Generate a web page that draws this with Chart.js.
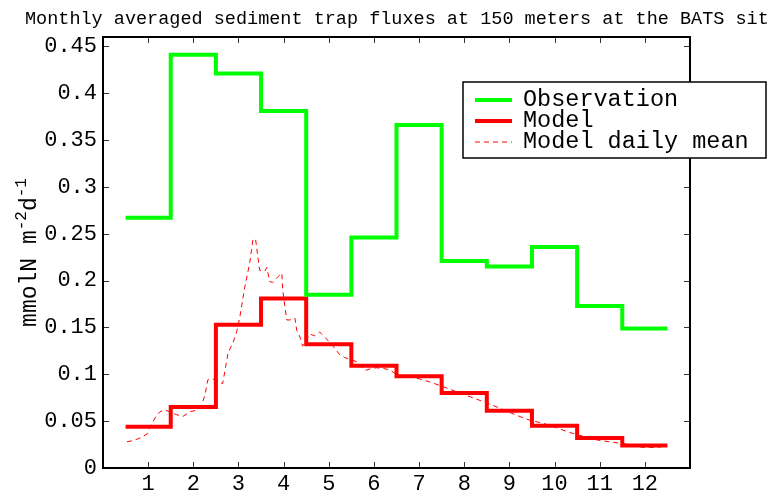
<!DOCTYPE html>
<html>
<head>
<meta charset="utf-8">
<script src="https://cdn.jsdelivr.net/npm/chart.js@4.4.1/dist/chart.umd.min.js"></script>
<style>
  html, body { margin: 0; padding: 0; background: #fff; }
  #wrap { width: 767px; height: 490px; position: relative; }
</style>
</head>
<body>
<div id="wrap"><canvas id="grafik"></canvas></div>
<script>
// Data
const months = [1, 2, 3, 4, 5, 6, 7, 8, 9, 10, 11, 12];
const observation = [0.267, 0.441, 0.421, 0.381, 0.185, 0.246, 0.366, 0.221, 0.215, 0.236, 0.173, 0.149];
const model = [0.044, 0.065, 0.153, 0.181, 0.132, 0.109, 0.098, 0.080, 0.061, 0.045, 0.032, 0.024];

// Model daily mean (x in months)
const dailyMonth = [0.53, 0.64, 0.77, 0.86, 0.97, 1.08, 1.17, 1.26, 1.37, 1.48, 1.62, 1.77, 1.92, 2.10, 2.19,
    2.26, 2.32, 2.43, 2.54, 2.65, 2.77, 2.88, 2.96, 3.03, 3.14, 3.25, 3.32, 3.38, 3.43, 3.47, 3.58, 3.63, 3.69,
    3.76, 3.87, 3.96, 3.98, 4.03, 4.07, 4.14, 4.25, 4.29, 4.36, 4.42, 4.49, 4.58, 4.69, 4.80, 4.91, 5.02, 5.13,
    5.24, 5.35, 5.53, 5.64, 5.80, 5.93, 6.06, 6.22, 6.35, 6.46, 6.64, 6.84, 7.01, 7.23, 7.52, 7.85, 8.19, 8.52,
    8.78, 9.12, 9.45, 9.73, 10.04, 10.33, 10.62, 10.93, 11.22, 11.66, 11.95, 12.26, 12.41];
const dailyMean = [0.028, 0.029, 0.031, 0.033, 0.036, 0.047, 0.055, 0.060, 0.062, 0.060, 0.057, 0.055, 0.060, 0.062, 0.068,
    0.078, 0.094, 0.095, 0.093, 0.090, 0.123, 0.134, 0.145, 0.161, 0.193, 0.219, 0.244, 0.244, 0.225, 0.211, 0.210, 0.214, 0.199,
    0.198, 0.204, 0.208, 0.190, 0.172, 0.158, 0.158, 0.160, 0.147, 0.140, 0.130, 0.136, 0.143, 0.141, 0.145, 0.140, 0.134, 0.128,
    0.121, 0.118, 0.115, 0.113, 0.104, 0.106, 0.107, 0.106, 0.105, 0.101, 0.097, 0.097, 0.095, 0.092, 0.087, 0.081, 0.075, 0.069,
    0.064, 0.057, 0.051, 0.048, 0.043, 0.038, 0.034, 0.030, 0.028, 0.025, 0.022, 0.022, 0.023];

const xTicks = months;
const yTicks = [0, 0.05, 0.1, 0.15, 0.2, 0.25, 0.3, 0.35, 0.4, 0.45];

const titleText = 'Monthly averaged sediment trap fluxes at 150 meters at the BATS site';
const legendLabels = ['Observation', 'Model', 'Model daily mean'];

const monoFont = '"Liberation Mono", "Courier New", monospace';

// Monthly values as steps: each month spans m-0.5 .. m+0.5
function toSteps(values) {
    const pts = [];
    months.forEach((m, i) => {
        pts.push({ x: m - 0.5, y: values[i] });
        pts.push({ x: m + 0.5, y: values[i] });
    });
    return pts;
}

// Frame, inward ticks, title, y label and legend box
const decorPlugin = {
    id: 'decor',
    afterDraw(chart) {
        const ctx = chart.ctx;
        const a = chart.chartArea;
        const xs = chart.scales.x;
        const ys = chart.scales.y;
        ctx.save();

        // inward ticks
        ctx.strokeStyle = '#333';
        ctx.lineWidth = 1;
        ctx.beginPath();
        xTicks.forEach(v => {
            const px = Math.round(xs.getPixelForValue(v)) + 0.5;
            ctx.moveTo(px, a.bottom); ctx.lineTo(px, a.bottom - 6);
            ctx.moveTo(px, a.top); ctx.lineTo(px, a.top + 6);
        });
        yTicks.forEach(v => {
            const py = Math.round(ys.getPixelForValue(v)) + 0.5;
            ctx.moveTo(a.left, py); ctx.lineTo(a.left + 6, py);
            ctx.moveTo(a.right, py); ctx.lineTo(a.right - 6, py);
        });
        ctx.stroke();

        // frame
        ctx.strokeStyle = '#000';
        ctx.lineWidth = 2;
        ctx.strokeRect(a.left, a.top, a.right - a.left, a.bottom - a.top);

        // title
        ctx.fillStyle = '#000';
        ctx.font = '18.5px ' + monoFont;
        ctx.textAlign = 'left';
        ctx.textBaseline = 'alphabetic';
        ctx.fillText(titleText, 25, 24);

        // y axis label with superscripts
        const parts = [
            { t: 'mmolN m', sup: false },
            { t: '-2', sup: true },
            { t: 'd', sup: false },
            { t: '-1', sup: true }
        ];
        const mainFont = '23px ' + monoFont;
        const supFont = '16px ' + monoFont;
        let total = 0;
        parts.forEach(p => {
            ctx.font = p.sup ? supFont : mainFont;
            p.w = ctx.measureText(p.t).width;
            total += p.w;
        });
        ctx.translate(36, (a.top + a.bottom) / 2);
        ctx.rotate(-Math.PI / 2);
        let cx = -total / 2;
        parts.forEach(p => {
            ctx.font = p.sup ? supFont : mainFont;
            ctx.fillText(p.t, cx, p.sup ? -10 : 0);
            cx += p.w;
        });
        ctx.setTransform(1, 0, 0, 1, 0, 0);

        // legend box
        const bx = 463, by = 82, bw = 303, bh = 76;
        ctx.fillStyle = '#fff';
        ctx.fillRect(bx, by, bw, bh);
        ctx.strokeStyle = '#000';
        ctx.lineWidth = 1.5;
        ctx.strokeRect(bx, by, bw, bh);
        const ds = chart.data.datasets;
        legendLabels.forEach((label, i) => {
            const ly = by + 18 + i * 21;
            ctx.beginPath();
            ctx.strokeStyle = ds[i].borderColor;
            ctx.lineWidth = ds[i].borderWidth;
            ctx.setLineDash(ds[i].borderDash || []);
            ctx.moveTo(475, ly);
            ctx.lineTo(512, ly);
            ctx.stroke();
            ctx.setLineDash([]);
            ctx.fillStyle = '#000';
            ctx.font = '23.5px ' + monoFont;
            ctx.textBaseline = 'middle';
            ctx.fillText(label, 523, ly);
        });
        ctx.restore();
    }
};

const config = {
    type: 'line',
    data: {
        datasets: [
            {
                label: legendLabels[0],
                data: toSteps(observation),
                borderColor: '#00ff00',
                borderWidth: 4,
                pointRadius: 0,
                fill: false,
            },
            {
                label: legendLabels[1],
                data: toSteps(model),
                borderColor: '#ff0000',
                borderWidth: 4,
                pointRadius: 0,
                fill: false,
            },
            {
                label: legendLabels[2],
                data: dailyMonth.map((m, i) => ({ x: m, y: dailyMean[i] })),
                borderColor: '#ff0000',
                borderWidth: 1,
                borderDash: [5, 4],
                pointRadius: 0,
                tension: 0,
                fill: false,
            },
        ]
    },
    options: {
        responsive: false,
        animation: false,
        layout: {
            padding: { left: 0, top: 37, right: 77, bottom: 0 }
        },
        scales: {
            x: {
                type: 'linear',
                min: 0,
                max: 13,
                afterBuildTicks: scale => { scale.ticks = xTicks.map(v => ({ value: v })); },
                afterFit: scale => { scale.height = 22; },
                grid: { display: false, drawTicks: false },
                border: { display: false },
                ticks: {
                    padding: 3,
                    color: '#000',
                    maxRotation: 0,
                    autoSkip: false,
                    font: { family: monoFont, size: 22 },
                    callback: v => String(v),
                }
            },
            y: {
                type: 'linear',
                min: 0,
                max: 0.46,
                afterBuildTicks: scale => { scale.ticks = yTicks.map(v => ({ value: v })); },
                afterFit: scale => { scale.width = 103; },
                grid: { display: false, drawTicks: false },
                border: { display: false },
                ticks: {
                    padding: 6,
                    color: '#000',
                    autoSkip: false,
                    font: { family: monoFont, size: 22 },
                    callback: v => String(parseFloat(v.toFixed(2))),
                }
            }
        },
        plugins: {
            legend: { display: false },
            tooltip: { enabled: false },
            title: { display: false }
        }
    },
    plugins: [decorPlugin]
};

const canvas = document.getElementById('grafik');
canvas.width = 767;
canvas.height = 490;
new Chart(canvas, config);
</script>
</body>
</html>
